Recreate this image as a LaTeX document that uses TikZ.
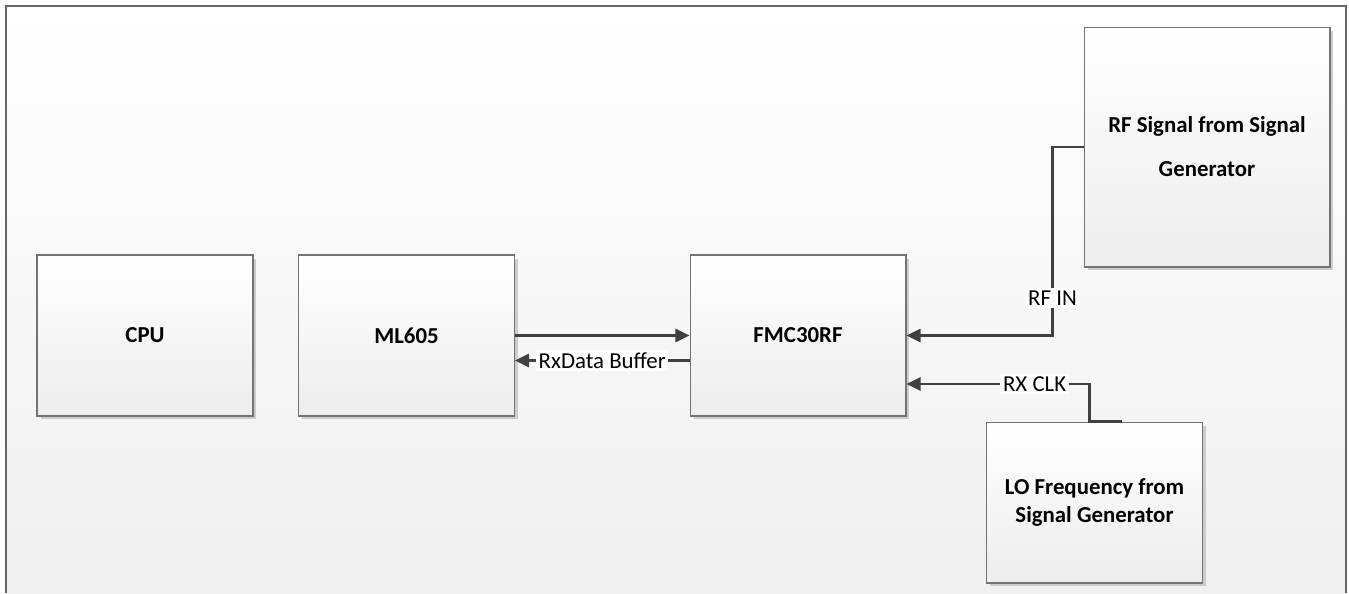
\documentclass[tikz,border=0pt]{standalone}
\usepackage{fontspec}
\setmainfont{Carlito}
\usetikzlibrary{arrows.meta,shadows}
\tikzset{
  block/.style={draw=black!55,line width=0.6pt,top color=white,bottom color=black!7,
    minimum width=4.32cm,minimum height=3.22cm,align=center,
    font=\fontsize{13}{16}\selectfont\bfseries,
    drop shadow={shadow xshift=0.07cm,shadow yshift=-0.07cm,fill=black!20,opacity=1}},
  link/.style={draw=black!75,line width=1.3pt,-{Triangle[length=8pt,width=7.5pt]}},
  tag/.style={fill=white,inner sep=1.5pt,font=\fontsize{13}{14}\selectfont}
}
\begin{document}
\begin{tikzpicture}[x=0.02cm,y=-0.02cm]
\useasboundingbox (0,0) rectangle (1349,593);
\fill[top color=white,bottom color=black!6] (6,6) rectangle (1346,593);
\draw[black!60,line width=0.9pt] (6,593) -- (6,6) -- (1346,6) -- (1346,593);
\node[block] (cpu) at (145,335.5) {CPU};
\node[block] (ml605) at (406.5,335.5) {ML605};
\node[block] (fmc) at (798,335.5) {FMC30RF};
\node[block,minimum width=4.92cm,minimum height=4.8cm] (rf) at (1207,147) {RF Signal from Signal\\[9pt]Generator};
\node[block] (lo) at (1094.5,502.5) {LO Frequency from\\Signal Generator};
\draw[link] (ml605.east) -- (fmc.west);
\draw[link] ([yshift=-0.5cm]fmc.west) -- node[tag]{RxData Buffer} ([yshift=-0.5cm]ml605.east);
\draw[link] (rf.west) -- ++(-31,0) |- node[tag,pos=0.4]{RF IN} (fmc.east);
\draw[link] ([xshift=0.55cm]lo.north) -- ([xshift=-0.1cm]lo.north) |- node[tag,pos=0.65]{RX CLK} ([yshift=-0.97cm]fmc.east);
\end{tikzpicture}
\end{document}
